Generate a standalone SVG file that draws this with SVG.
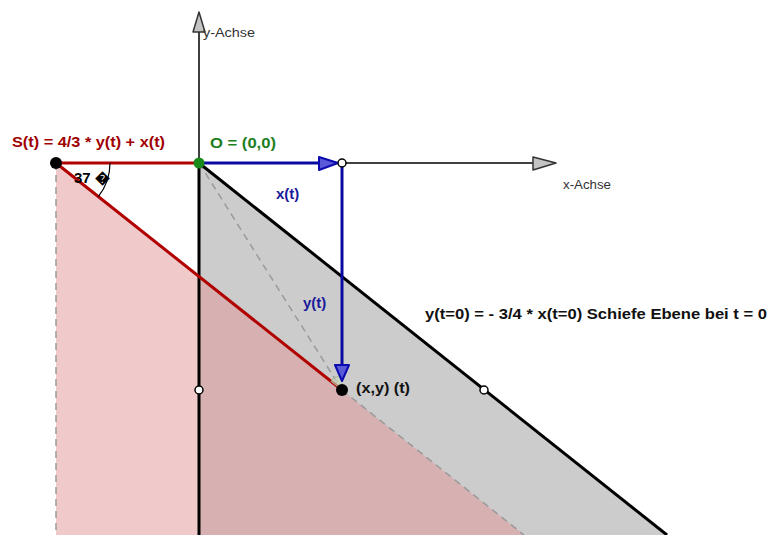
<svg xmlns="http://www.w3.org/2000/svg" width="772" height="535" viewBox="0 0 772 535">
<style>
.t{font-family:"Liberation Sans",Arial,sans-serif;font-weight:bold;font-size:15px}
.ax{font-family:"Liberation Sans",Arial,sans-serif;font-size:12px;fill:#333}
.dash{stroke:#9a9a9a;stroke-width:1.5;stroke-dasharray:7 5;fill:none}
.thick{stroke:#000;stroke-width:3;fill:none}
.thin{stroke:#000;stroke-width:1.5;fill:none}
.red{stroke:#b00000;stroke-width:3;fill:none}
.blue{stroke:#0a0aa0;stroke-width:3;fill:none}
.bhead{fill:#5a5ad8;stroke:#0a0ab0;stroke-width:2;stroke-linejoin:round}
.ahead{fill:#c4c4c4;stroke:#333;stroke-width:1.5;stroke-linejoin:round}
.open{fill:#fff;stroke:#000;stroke-width:1.5}
</style>
<rect width="772" height="535" fill="#fff"/>
<g id="regions">
<polygon points="199,163 667,535 199,535" fill="#cccccc"/>
<polygon points="56,163 524,535 56,535" fill="rgb(225,150,150)" fill-opacity="0.5"/>
</g>
<g id="connectors">
<line class="dash" x1="56" y1="163" x2="56" y2="535"/>
<line class="dash" x1="199" y1="163" x2="342" y2="390"/>
<line class="dash" x1="342" y1="390" x2="524" y2="535"/>
<line class="thin" x1="199" y1="163" x2="199" y2="32"/>
<polygon class="ahead" points="199,12 193,32 205,32"/>
<line class="thin" x1="342" y1="163" x2="533" y2="163"/>
<polygon class="ahead" points="556,163 533,157 533,170"/>
<line class="thick" x1="199" y1="163" x2="199" y2="535"/>
<line class="thick" x1="199" y1="163" x2="667" y2="535"/>
<line class="red" x1="56" y1="163" x2="199" y2="163"/>
<line class="red" x1="56" y1="163" x2="342" y2="390"/>
<path d="M110,163 A54,54 0 0 1 98.3,196.6" fill="none" stroke="#000" stroke-width="1.2"/>
<path d="M342,390 L342,376 A14,14 0 0 0 331,381.3 Z" fill="#c8d8b8" fill-opacity="0.6" stroke="#a8b898" stroke-width="1"/>
<line class="blue" x1="199" y1="163" x2="320" y2="163"/>
<polygon class="bhead" points="338,163 319,157 319,170"/>
<line class="blue" x1="342" y1="163" x2="342" y2="366"/>
<polygon class="bhead" points="342,381 335,365 349,365"/>
</g>
<g id="S">
<circle cx="56" cy="163" r="6" fill="#000"/>
<text class="t" x="12" y="147" fill="#a00000" textLength="153" lengthAdjust="spacingAndGlyphs">S(t) = 4/3 * y(t) + x(t)</text>
<text class="t" x="74" y="183" fill="#000" font-size="14">37 �</text>
</g>
<g id="O">
<circle cx="199" cy="163" r="5.5" fill="#1a8a1a"/>
<text class="t" x="210" y="148" fill="#1e7e1e" textLength="66" lengthAdjust="spacingAndGlyphs">O = (0,0)</text>
</g>
<g id="xt">
<circle class="open" cx="342" cy="163" r="4"/>
<text class="t" x="276" y="199" fill="#1a1a9a">x(t)</text>
</g>
<g id="yt">
<text class="t" x="303" y="308" fill="#1a1a9a">y(t)</text>
</g>
<g id="P">
<circle cx="342" cy="390" r="6" fill="#000"/>
<text class="t" x="356" y="393" fill="#111" textLength="54" lengthAdjust="spacingAndGlyphs">(x,y) (t)</text>
</g>
<g id="yaxis">
<circle class="open" cx="199" cy="390" r="4"/>
<text class="ax" x="203" y="37" textLength="52" lengthAdjust="spacingAndGlyphs">y-Achse</text>
</g>
<g id="xaxis">
<text class="ax" x="563" y="189" textLength="48" lengthAdjust="spacingAndGlyphs">x-Achse</text>
</g>
<g id="plane">
<circle class="open" cx="484" cy="390" r="4"/>
<text class="t" x="425" y="319" fill="#111" textLength="342" lengthAdjust="spacingAndGlyphs">y(t=0) = - 3/4 * x(t=0) Schiefe Ebene bei t = 0</text>
</g>
</svg>
